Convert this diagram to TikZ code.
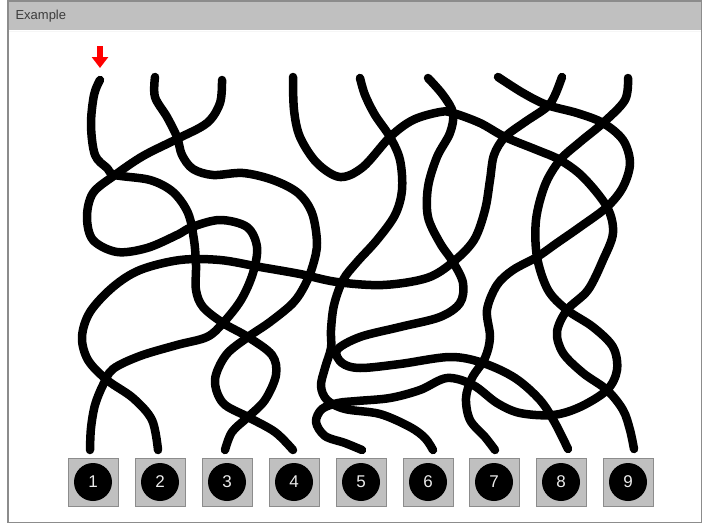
\documentclass[tikz,border=0pt]{standalone}
\usepackage{fontspec}
\setmainfont{Liberation Sans}
\usepackage{tikz}
\usetikzlibrary{arrows.meta}

\definecolor{bargray}{RGB}{192,192,192}
\definecolor{edgegray}{RGB}{140,140,140}
\definecolor{titletext}{RGB}{60,60,60}

\begin{document}
\begin{tikzpicture}[x=1pt, y=-1pt,
    rope/.style={line width=8.5pt, line cap=round, line join=round},
    key/.style={draw=edgegray, line width=1pt, fill=bargray, minimum width=50pt, minimum height=48pt, inner sep=0pt},
    ball/.style={circle, fill=black, minimum size=38pt, inner sep=0pt, text=white!92!black, font=\fontsize{17}{17}\selectfont}]
      \useasboundingbox (0,0) rectangle (702,525);

      % Frame
      \fill[bargray] (8,0) rectangle (702,30);
      \draw[edgegray, line width=1.5pt] (8,0.75) rectangle (701.25,522.5);
      \draw[white!85!bargray, line width=1pt] (9,31) -- (701,31);
      \node[anchor=west, text=titletext, font=\fontsize{13}{14}\selectfont] (title) at (12,16) {Example};

      % Ends at the top
      \coordinate (t1) at (100,80);
      \coordinate (t2) at (155,77);
      \coordinate (t3) at (222,80);
      \coordinate (t4) at (293,77);
      \coordinate (t5) at (360,78);
      \coordinate (t6) at (428,78);
      \coordinate (t7) at (498,77);
      \coordinate (t8) at (562,77);
      \coordinate (t9) at (628,78);

      % Ends at the bottom
      \coordinate (b1) at (90,450);
      \coordinate (b2) at (158,450);
      \coordinate (b3) at (225,450);
      \coordinate (b4) at (293,450);
      \coordinate (b5) at (362,450);
      \coordinate (b6) at (433,450);
      \coordinate (b7) at (495,450);
      \coordinate (b8) at (568,449);
      \coordinate (b9) at (634,449);

      % Marker
      \coordinate (m1) at (100,46);
      \coordinate (m2) at (100,68);
      \draw[red, line width=6pt, -{Triangle[length=11pt, width=16pt]}] (m1) -- (m2);

      % Keys
      \node[key] (k1) at (93,482) {};
      \node[ball] (n1) at (k1) {1};
      \node[key] (k2) at (160,482) {};
      \node[ball] (n2) at (k2) {2};
      \node[key] (k3) at (227,482) {};
      \node[ball] (n3) at (k3) {3};
      \node[key] (k4) at (294,482) {};
      \node[ball] (n4) at (k4) {4};
      \node[key] (k5) at (361,482) {};
      \node[ball] (n5) at (k5) {5};
      \node[key] (k6) at (428,482) {};
      \node[ball] (n6) at (k6) {6};
      \node[key] (k7) at (494,482) {};
      \node[ball] (n7) at (k7) {7};
      \node[key] (k8) at (561,482) {};
      \node[ball] (n8) at (k8) {8};
      \node[key] (k9) at (628,482) {};
      \node[ball] (n9) at (k9) {9};

      % Ropes
      \draw[rope] plot[smooth, tension=0.55] coordinates {(t1) (94,95) (91,125) (95,155) (107,168) (115,175) (150,180) (173,192) (188,213) (194,240) (196,265) (196,290) (203,307) (223,323) (248,337) (272,355) (276,375) (265,400) (248,417) (232,432) (b3)};
      \draw[rope] plot[smooth, tension=0.55] coordinates {(t2) (155,97) (167,117) (177,137) (182,155) (193,169) (213,175) (243,173) (273,180) (298,193) (312,213) (317,243) (313,265) (305,285) (293,303) (270,322) (248,337) (226,355) (215,380) (223,403) (248,417) (275,432) (b4)};
      \draw[rope] plot[smooth, tension=0.55] coordinates {(t3) (220,103) (207,123) (177,139) (143,156) (115,175) (93,193) (87,217) (93,240) (117,252) (147,248) (177,235) (192,227) (220,220) (247,227) (257,247) (253,273) (241,300) (223,323) (207,337) (177,345) (140,356) (113,369) (103,385) (95,405) (91,428) (b1)};
      \draw[rope] plot[smooth, tension=0.55] coordinates {(t4) (294,110) (300,137) (317,163) (340,177) (363,167) (390,137) (413,120) (440,112) (453,113) (480,123) (505,137) (537,150) (560,160) (583,177) (607,207) (613,233) (603,260) (588,290) (567,310) (557,332) (563,353) (583,373) (607,390) (623,410) (630,430) (b9)};
      \draw[rope] plot[smooth, tension=0.55] coordinates {(t5) (365,95) (375,115) (390,137) (400,160) (402,190) (395,215) (377,240) (357,262) (343,280) (334,305) (331,330) (331,348) (325,368) (321,386) (327,400) (345,409) (380,414) (410,427) (425,438) (b6)};
      \draw[rope] plot[smooth, tension=0.55] coordinates {(t6) (443,95) (453,113) (450,133) (437,157) (428,187) (428,217) (440,243) (453,262) (463,283) (460,303) (440,317) (400,327) (360,337) (337,350) (342,363) (360,368) (400,364) (450,357) (483,363) (515,378) (540,400) (555,423) (b8)};
      \draw[rope] plot[smooth, tension=0.55] coordinates {(t7) (523,93) (547,105) (577,113) (603,123) (623,140) (630,163) (623,187) (607,207) (580,227) (557,243) (537,257) (513,270) (497,285) (487,310) (490,337) (485,358) (472,378) (466,398) (470,420) (485,437) (b7)};
      \draw[rope] plot[smooth, tension=0.55] coordinates {(t8) (555,95) (547,107) (525,122) (505,137) (494,155) (490,180) (485,210) (474,240) (453,262) (427,278) (383,285) (337,282) (300,274) (260,267) (220,260) (180,260) (140,270) (113,287) (90,312) (82,337) (88,360) (107,380) (133,398) (152,420) (b2)};
      \draw[rope] plot[smooth, tension=0.55] coordinates {(t9) (625,100) (603,123) (580,142) (560,160) (545,185) (536,220) (537,257) (548,290) (567,310) (593,327) (613,347) (617,370) (607,390) (580,407) (553,415) (520,413) (497,403) (473,385) (447,378) (420,390) (390,398) (357,401) (338,403) (322,409) (316,422) (325,436) (345,443) (b5)};
  \end{tikzpicture}
\end{document}
